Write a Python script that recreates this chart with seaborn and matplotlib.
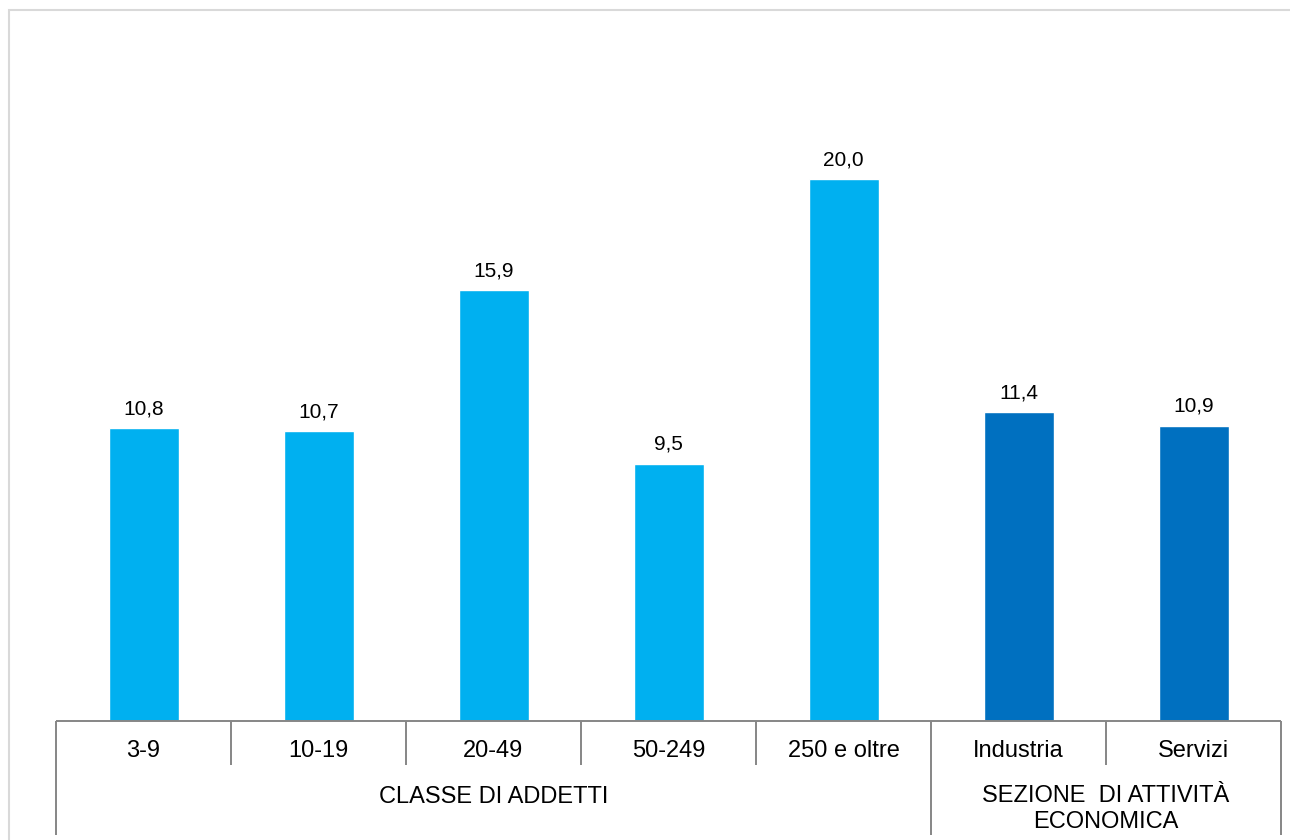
import matplotlib
matplotlib.use("Agg")
import matplotlib.pyplot as plt
import seaborn as sns
import pandas as pd
from matplotlib.patches import Rectangle

categories = ["3-9", "10-19", "20-49", "50-249", "250 e oltre", "Industria", "Servizi"]
values = [10.8, 10.7, 15.9, 9.5, 20.0, 11.4, 10.9]
groups = ["CLASSE DI ADDETTI"] * 5 + ["SEZIONE  DI ATTIVITÀ\nECONOMICA"] * 2
group_names = ["CLASSE DI ADDETTI", "SEZIONE  DI ATTIVITÀ\nECONOMICA"]
group_colors = ["#00B0F0", "#0070C0"]

df = pd.DataFrame({"cat": categories, "val": values, "grp": groups})

sns.set_theme(style="white")
plt.rcParams["font.family"] = ["Liberation Sans", "DejaVu Sans"]

W, H = 1290, 840
fig = plt.figure(figsize=(12.9, 8.4), dpi=100)
ax_left, ax_right, ax_bottom, ax_top = 56, 1281, 721, 43.5
ax = fig.add_axes([ax_left / W, 1 - ax_bottom / H, (ax_right - ax_left) / W, (ax_bottom - ax_top) / H])

sns.barplot(data=df, x="cat", y="val", hue="grp", palette=dict(zip(group_names, group_colors)),
            dodge=False, width=0.4, ax=ax, legend=False, saturation=1)
ax.set_xlim(-0.5, len(categories) - 0.5)
ax.set_ylim(0, 25)
ax.axis("off")

for i, v in enumerate(values):
    ax.annotate(f"{v:.1f}".replace(".", ","), (i, v), xytext=(0, 10), textcoords="offset points",
                ha="center", va="baseline", fontsize=15, color="#000000")

axh = ax_bottom - ax_top
tr = ax.get_xaxis_transform()
line_kw = dict(color="#868686", lw=1.4, clip_on=False, transform=tr, solid_capstyle="butt")
ax.plot([-0.5, len(categories) - 0.5], [0, 0], **line_kw)

# separators
group_bounds = [-0.5]
for i in range(1, len(groups)):
    if groups[i] != groups[i - 1]:
        group_bounds.append(i - 0.5)
group_bounds.append(len(categories) - 0.5)
for i in range(len(categories) + 1):
    x = i - 0.5
    depth = 114 if x in group_bounds else 44
    ax.plot([x, x], [0, -depth / axh], **line_kw)

for i, c in enumerate(categories):
    ax.text(i, -30 / axh, c, ha="center", va="center", fontsize=17, transform=tr, color="#000000")

for gi, g in enumerate(group_names):
    xs = [i for i, gg in enumerate(groups) if gg == g]
    xc = (min(xs) + max(xs)) / 2
    if "\n" in g:
        ax.text(xc, -88 / axh, g, ha="center", va="center", fontsize=17, transform=tr,
                linespacing=1.2, color="#000000")
    else:
        ax.text(xc, -76 / axh, g, ha="center", va="center", fontsize=17, transform=tr, color="#000000")

fig.patches.append(Rectangle((9 / W, -0.1), 1.2, 1.1 - 10 / H, transform=fig.transFigure,
                             fill=False, edgecolor="#D9D9D9", lw=1.5))

fig.savefig("out.png", dpi=100)
